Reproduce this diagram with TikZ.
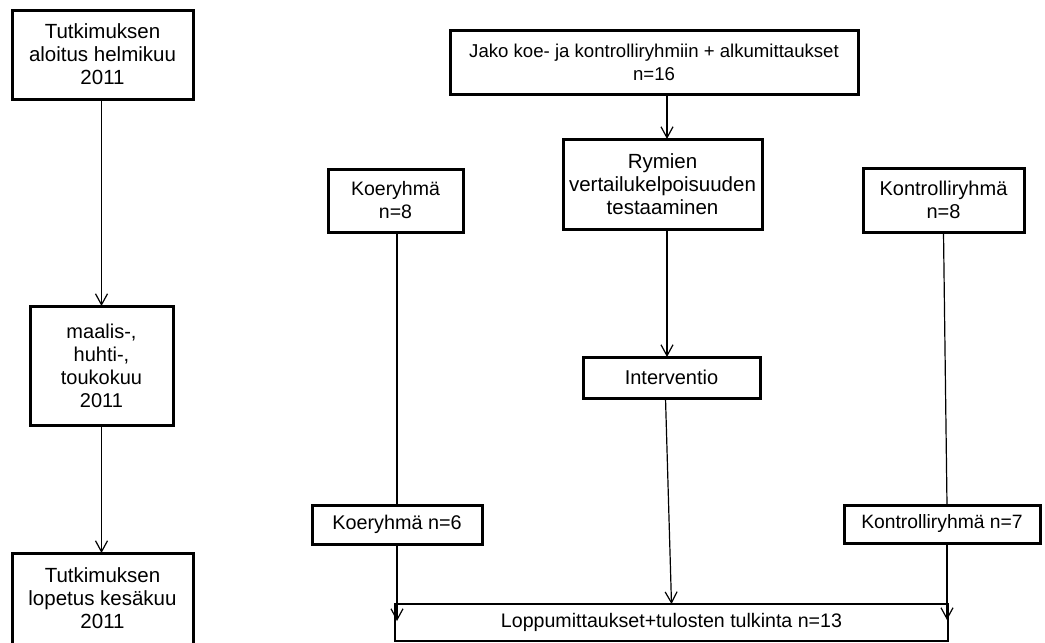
\documentclass[tikz,border=0pt]{standalone}
\usepackage{fontspec}
\setmainfont{Liberation Sans}
\usetikzlibrary{arrows.meta}
\begin{document}
\begin{tikzpicture}[x=1pt,y=-1pt,
  box/.style={draw, line width=3pt, align=center, inner sep=0pt, outer sep=0pt,
    font=\fontsize{20}{23}\selectfont},
  fs/.style={font=\fontsize{#1}{23}\selectfont},
  thinbox/.style={box, line width=2pt},
  conn/.style={line width=1.2pt},
  arr/.style={conn, -{Straight Barb[length=11pt,width=12pt,line width=1.2pt]}}]
\useasboundingbox (0,0) rectangle (1045,643);
\node[box, fs=20.5, minimum width=181, minimum height=89] (a) at (102.5,54.5) {Tutkimuksen\\aloitus helmikuu\\2011};
\node[box, fs=20, minimum width=143, minimum height=119] (b) at (101.5,365.5) {maalis-,\\huhti-,\\toukokuu\\2011};
\node[box, fs=20.5, minimum width=181, minimum height=91] (c) at (102.5,598.5) {Tutkimuksen\\lopetus kesäkuu\\2011};
\node[box, fs=18.6, minimum width=408, minimum height=64] (d) at (654,62) {Jako koe- ja kontrolliryhmiin + alkumittaukset\\n=16};
\node[box, fs=20.5, minimum width=199, minimum height=90] (e) at (662.5,184) {Rymien\\vertailukelpoisuuden\\testaaminen};
\node[box, fs=19.5, minimum width=135, minimum height=63] (f) at (395.5,200.5) {Koeryhmä\\n=8};
\node[box, fs=20, minimum width=161, minimum height=64] (g) at (943.5,200) {Kontrolliryhmä\\n=8};
\node[box, fs=20, minimum width=177, minimum height=41] (h) at (671.5,377.5) {Interventio};
\node[box, fs=19.8, minimum width=170, minimum height=39] (i) at (397,524.5) {Koeryhmä n=6};
\node[box, fs=19.3, minimum width=196, minimum height=38] (j) at (942,524) {Kontrolliryhmä n=7};
\node[thinbox, fs=19.6, minimum width=553, minimum height=37] (k) at (671.5,622.5) {Loppumittaukset+tulosten tulkinta n=13};
\coordinate (kL) at (397,621);
\coordinate (kR) at (947,620);
\draw[arr] (b.north |- a.south) -- (b.north);
\draw[arr] (b.south) -- (b.south |- c.north);
\draw[arr] ([xshift=13]d.south) -- ([xshift=4.5]e.north);
\draw[arr] ([xshift=4.5]e.south) -- ([xshift=-4.5]h.north);
\draw[arr] ([xshift=-6]h.south) -- (k.north);
\draw[conn] (i.north |- f.south) -- (i.north);
\draw[arr] (i.south -| kL) -- (kL);
\draw[conn] (g.south) -- (j.north -| kR);
\draw[arr] (j.south -| kR) -- (kR);
\end{tikzpicture}
\end{document}
